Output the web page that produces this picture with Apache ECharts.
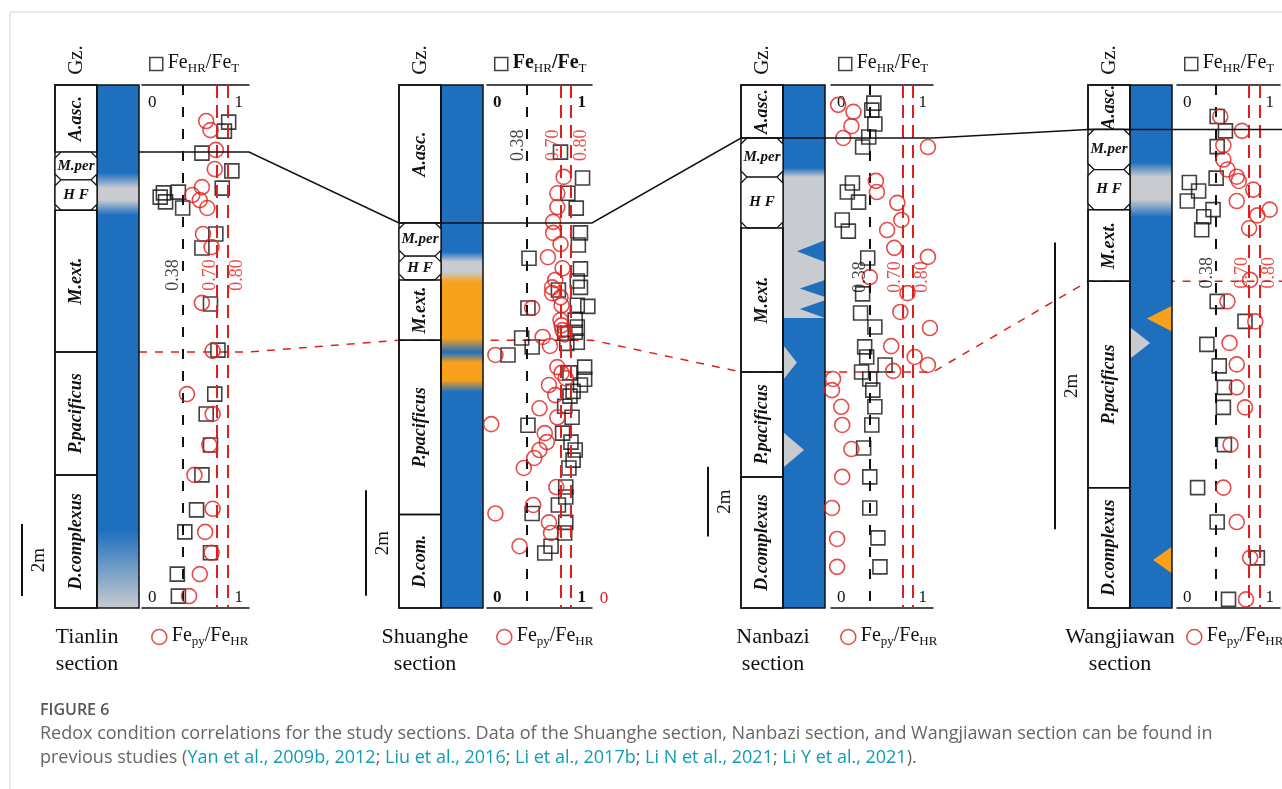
<!DOCTYPE html>
<html>
<head>
<meta charset="utf-8">
<title>Figure 6</title>
<script src="https://cdn.jsdelivr.net/npm/echarts@6.0.0/dist/echarts.min.js"></script>
<style>
  html, body { margin: 0; padding: 0; background: #fff; }
  #main { width: 1282px; height: 789px; }
</style>
</head>
<body>
<div id="main"></div>
<script>
// ---- data (depth in m below top of each column, x = ratio) ----
const sectionNames = ['Tianlin', 'Shuanghe', 'Nanbazi', 'Wangjiawan'];
const sectionHeights = [14.5, 9.9, 15.0, 3.65];
const scaleBarTops = [12.17, 7.67, 10.95, 1.10];   // 2 m scale bar
const thresholdValues = [0.38, 0.70, 0.80];
const thresholdLabelDepths = [5.27, 1.14, 5.51, 1.31];

const tianlinZones = [['A.asc.', 0, 1.86], ['M.per', 1.86, 2.63], ['H F', 2.63, 3.47], ['M.ext.', 3.47, 7.40], ['P.pacificus', 7.40, 10.81], ['D.complexus', 10.81, 14.5]];
const shuangheZones = [['A.asc.', 0, 2.61], ['M.per', 2.61, 3.24], ['H F', 3.24, 3.69], ['M.ext.', 3.69, 4.83], ['P.pacificus', 4.83, 8.13], ['D.com.', 8.13, 9.9]];
const nanbaziZones = [['A.asc.', 0, 1.52], ['M.per', 1.52, 2.64], ['H F', 2.64, 4.10], ['M.ext.', 4.10, 8.23], ['P.pacificus', 8.23, 11.24], ['D.complexus', 11.24, 15.0]];
const wangjiawanZones = [['A.asc.', 0, 0.31], ['M.per', 0.31, 0.59], ['H F', 0.59, 0.87], ['M.ext.', 0.87, 1.37], ['P.pacificus', 1.37, 2.81], ['D.complexus', 2.81, 3.65]];

// redox column: [depth, facies]  E = euxinic, O = oxic, F = ferruginous
const tianlinRedox = [[0, 'E'], [2.44, 'E'], [2.86, 'O'], [3.19, 'O'], [3.60, 'E'], [12.34, 'E'], [14.5, 'O']];
const shuangheRedox = [[0, 'E'], [3.16, 'E'], [3.35, 'O'], [3.54, 'O'], [3.73, 'F'], [4.79, 'F'], [5.06, 'E'], [5.25, 'F'], [5.59, 'F'], [5.81, 'E'], [9.9, 'E']];
const nanbaziRedox = [[0, 'E'], [2.38, 'E'], [2.64, 'O'], [6.68, 'O'], [6.68, 'E'], [15.0, 'E']];
const wangjiawanRedox = [[0, 'E'], [0.54, 'E'], [0.64, 'O'], [0.80, 'O'], [0.92, 'E'], [3.65, 'E']];

// lenses: [top, bottom, reach, side, facies]
const tianlinLenses = [];
const shuangheLenses = [];
const nanbaziLenses = [[4.45, 5.08, 0.67, 'R', 'E'], [5.59, 6.08, 0.6, 'R', 'E'], [6.17, 6.68, 0.6, 'R', 'E'], [7.46, 8.46, 0.33, 'L', 'O'], [9.95, 10.98, 0.5, 'L', 'O']];
const wangjiawanLenses = [[1.54, 1.72, 0.6, 'R', 'F'], [1.69, 1.91, 0.48, 'L', 'O'], [3.22, 3.41, 0.45, 'R', 'F']];

// FeHR/FeT (squares) and Fepy/FeHR (circles): [ratio, depth]
const tianlinFeHR = [[0.81, 1.03], [0.77, 1.28], [0.56, 1.89], [0.84, 2.38], [0.75, 2.86], [0.20, 2.99], [0.34, 2.97], [0.17, 3.11], [0.22, 3.24], [0.38, 3.41], [0.69, 4.13], [0.56, 4.52], [0.64, 6.07], [0.71, 7.35], [0.68, 8.57], [0.60, 9.12], [0.64, 9.98], [0.56, 10.81], [0.51, 11.78], [0.40, 12.39], [0.64, 12.97], [0.33, 13.56], [0.34, 14.17]];
const tianlinFePy = [[0.60, 1.00], [0.64, 1.25], [0.69, 1.80], [0.68, 2.33], [0.56, 2.83], [0.47, 3.05], [0.54, 3.19], [0.61, 3.41], [0.57, 4.13], [0.65, 4.49], [0.56, 6.04], [0.66, 7.37], [0.42, 8.57], [0.66, 9.12], [0.63, 9.98], [0.49, 10.81], [0.66, 11.75], [0.59, 12.39], [0.65, 12.97], [0.54, 13.56], [0.44, 14.17]];

const shuangheFeHR = [[0.70, 1.27], [0.91, 1.76], [0.77, 2.05], [0.85, 2.33], [0.89, 2.80], [0.87, 3.03], [0.40, 3.28], [0.89, 3.48], [0.86, 3.71], [0.89, 3.83], [0.68, 3.88], [0.86, 4.17], [0.96, 4.19], [0.39, 4.22], [0.84, 4.45], [0.86, 4.58], [0.84, 4.68], [0.74, 4.70], [0.33, 4.79], [0.86, 4.87], [0.76, 4.89], [0.43, 4.96], [0.20, 5.11], [0.93, 5.34], [0.79, 5.45], [0.93, 5.57], [0.89, 5.68], [0.82, 5.80], [0.79, 5.89], [0.74, 6.08], [0.81, 6.29], [0.39, 6.44], [0.72, 6.59], [0.80, 6.76], [0.84, 6.91], [0.82, 7.10], [0.78, 7.25], [0.75, 7.61], [0.75, 7.80], [0.68, 7.95], [0.43, 8.11], [0.75, 8.28], [0.74, 8.48], [0.61, 8.73], [0.55, 8.86]];
const shuangheFePy = [[0.73, 1.74], [0.67, 2.05], [0.67, 2.31], [0.63, 2.59], [0.63, 2.80], [0.70, 3.01], [0.58, 3.26], [0.72, 3.47], [0.65, 3.69], [0.62, 3.83], [0.62, 3.94], [0.70, 4.02], [0.71, 4.17], [0.43, 4.22], [0.70, 4.45], [0.71, 4.55], [0.72, 4.64], [0.74, 4.72], [0.53, 4.77], [0.60, 4.94], [0.08, 5.11], [0.67, 5.34], [0.71, 5.45], [0.75, 5.55], [0.59, 5.68], [0.65, 5.87], [0.50, 6.12], [0.67, 6.29], [0.04, 6.42], [0.55, 6.59], [0.57, 6.76], [0.50, 6.91], [0.45, 7.06], [0.35, 7.25], [0.66, 7.61], [0.44, 7.95], [0.08, 8.11], [0.59, 8.28], [0.61, 8.48], [0.31, 8.73]];

const nanbaziFeHR = [[0.42, 0.52], [0.40, 0.72], [0.43, 1.12], [0.37, 1.49], [0.31, 1.78], [0.21, 2.81], [0.16, 3.07], [0.27, 3.36], [0.11, 3.87], [0.17, 4.19], [0.36, 4.96], [0.31, 5.99], [0.29, 6.54], [0.43, 6.94], [0.33, 7.51], [0.35, 7.80], [0.53, 8.03], [0.30, 8.23], [0.38, 8.43], [0.41, 8.75], [0.43, 9.23], [0.40, 9.75], [0.32, 10.41], [0.38, 11.24], [0.38, 12.13], [0.46, 12.99], [0.48, 13.82]];
const nanbaziFePy = [[0.07, 0.57], [0.22, 0.77], [0.20, 1.18], [0.12, 1.52], [0.95, 1.78], [0.44, 2.75], [0.45, 3.07], [0.65, 3.38], [0.69, 3.87], [0.55, 4.16], [0.62, 4.67], [0.95, 4.93], [0.38, 5.51], [0.75, 5.97], [0.68, 6.51], [0.97, 6.97], [0.59, 7.49], [0.82, 7.80], [0.95, 8.03], [0.61, 8.20], [0.02, 8.43], [0.01, 8.75], [0.10, 9.23], [0.11, 9.75], [0.20, 10.44], [0.11, 11.24], [0.01, 12.13], [0.06, 13.02], [0.06, 13.82]];

const wangjiawanFeHR = [[0.39, 0.22], [0.47, 0.32], [0.39, 0.43], [0.38, 0.65], [0.12, 0.68], [0.21, 0.74], [0.10, 0.81], [0.35, 0.87], [0.26, 0.92], [0.24, 1.01], [0.39, 1.51], [0.66, 1.65], [0.29, 1.81], [0.41, 1.96], [0.46, 2.11], [0.45, 2.25], [0.46, 2.51], [0.20, 2.81], [0.39, 3.05], [0.78, 3.30], [0.50, 3.59]];
const wangjiawanFePy = [[0.42, 0.22], [0.63, 0.32], [0.45, 0.42], [0.45, 0.52], [0.49, 0.59], [0.58, 0.64], [0.60, 0.67], [0.74, 0.73], [0.58, 0.81], [0.90, 0.87], [0.78, 0.91], [0.70, 1.00], [0.71, 1.36], [0.49, 1.51], [0.76, 1.65], [0.51, 1.80], [0.58, 1.95], [0.58, 2.11], [0.66, 2.25], [0.52, 2.51], [0.45, 2.81], [0.58, 3.05], [0.71, 3.30], [0.67, 3.59]];

// ---- layout / style ----
const FONT = '"Liberation Serif", "Times New Roman", serif';
const SANS = '"Open Sans", "Noto Sans", sans-serif';
const RED = '#e0201c';
const INK = '#111';
const faciesColors = { E: '#1f6fbf', O: '#c8cbcf', F: '#f8a11c' };
const SHORT_ZONES = ['M.per', 'H F'];

const zoneLeft = [55, 399, 741, 1088];
const plotLeft = [142, 487, 831, 1177];
const plotWidth = [107, 105, 102, 103];
const nameCenter = [87, 425, 773, 1120];
const COL_W = 42, TOP = 85, HEIGHT = 523;

const sections = sectionNames.map((name, i) => ({
  name,
  H: sectionHeights[i],
  zones: [tianlinZones, shuangheZones, nanbaziZones, wangjiawanZones][i],
  redox: [tianlinRedox, shuangheRedox, nanbaziRedox, wangjiawanRedox][i],
  lenses: [tianlinLenses, shuangheLenses, nanbaziLenses, wangjiawanLenses][i],
  feHR: [tianlinFeHR, shuangheFeHR, nanbaziFeHR, wangjiawanFeHR][i],
  fePy: [tianlinFePy, shuangheFePy, nanbaziFePy, wangjiawanFePy][i]
}));

const chart = echarts.init(document.getElementById('main'));

function renderColumn(sec) {
  return function (params, api) {
    const pTop = api.coord([0, 0]);
    const pBot = api.coord([2, sec.H]);
    const xz = pTop[0], xc = api.coord([1, 0])[0], xr = pBot[0];
    const yt = pTop[1], h = pBot[1] - pTop[1], w = xr - xc;
    const stops = sec.redox.map(s => ({ offset: s[0] / sec.H, color: faciesColors[s[1]] }));
    const children = [
      { type: 'rect', shape: { x: xz, y: yt, width: xc - xz, height: h }, style: { fill: 'none', stroke: INK, lineWidth: 1.5 } },
      { type: 'rect', shape: { x: xc, y: yt, width: w, height: h }, style: { fill: new echarts.graphic.LinearGradient(0, 0, 0, 1, stops) } }
    ];
    sec.lenses.forEach(l => {
      const ya = api.coord([1, l[0]])[1], yb = api.coord([1, l[1]])[1];
      const base = l[3] === 'R' ? xr : xc;
      const tip = l[3] === 'R' ? xr - l[2] * w : xc + l[2] * w;
      children.push({ type: 'polygon', shape: { points: [[base, ya], [tip, (ya + yb) / 2], [base, yb]] }, style: { fill: faciesColors[l[4]] } });
    });
    children.push({ type: 'rect', shape: { x: xc, y: yt, width: w, height: h }, style: { fill: 'none', stroke: INK, lineWidth: 1.5 } });
    return { type: 'group', children };
  };
}

function renderZone(zones) {
  return function (params, api) {
    const z = zones[params.dataIndex];
    const p0 = api.coord([0, z[1]]), p1 = api.coord([1, z[2]]);
    const x0 = p0[0], y0 = p0[1], x1 = p1[0], y1 = p1[1];
    const short = SHORT_ZONES.indexOf(z[0]) >= 0;
    let shape;
    if (short) {
      const c = 6;
      shape = {
        type: 'polygon',
        shape: { points: [[x0 + c, y0], [x1 - c, y0], [x1, y0 + c], [x1, y1 - c], [x1 - c, y1], [x0 + c, y1], [x0, y1 - c], [x0, y0 + c]] },
        style: { fill: '#fff', stroke: INK, lineWidth: 1.3 }
      };
    } else {
      shape = { type: 'rect', shape: { x: x0, y: y0, width: x1 - x0, height: y1 - y0 }, style: { fill: 'none', stroke: INK, lineWidth: 1.5 } };
    }
    const label = {
      type: 'text', x: (x0 + x1) / 2, y: (y0 + y1) / 2, rotation: short ? 0 : Math.PI / 2,
      style: { text: z[0], align: 'center', verticalAlign: 'middle', fontStyle: 'italic', fontWeight: 'bold', fontSize: short ? 15 : 18, fontFamily: FONT, fill: INK }
    };
    return { type: 'group', children: [shape, label] };
  };
}

function renderScaleBar(params, api) {
  const a = api.coord([0, api.value(1)]), b = api.coord([0, api.value(2)]);
  const x = a[0] - 33;
  return {
    type: 'group', children: [
      { type: 'line', shape: { x1: x, y1: a[1], x2: x, y2: b[1] }, style: { stroke: INK, lineWidth: 2 } },
      { type: 'text', x: x + 17, y: (a[1] + b[1]) / 2, rotation: Math.PI / 2,
        style: { text: '2m', align: 'center', verticalAlign: 'middle', fontSize: 19, fontFamily: FONT, fill: INK } }
    ]
  };
}

const grid = [], xAxis = [], yAxis = [], series = [], legend = [];

sections.forEach((sec, i) => {
  grid.push({ left: zoneLeft[i], top: TOP, width: 2 * COL_W, height: HEIGHT });
  grid.push({ left: plotLeft[i], top: TOP, width: plotWidth[i], height: HEIGHT });

  xAxis.push({ gridIndex: 2 * i, type: 'value', min: 0, max: 2, show: false });
  ['bottom', 'top'].forEach(pos => {
    xAxis.push({
      gridIndex: 2 * i + 1, type: 'value', position: pos, min: 0, max: 1, interval: 1,
      axisLine: { show: true, onZero: false, lineStyle: { color: INK, width: 1.5 } },
      axisTick: { show: false }, splitLine: { show: false },
      axisLabel: {
        inside: true, margin: pos === 'top' ? 9 : 2, color: INK, fontSize: 17, fontFamily: FONT,
        fontWeight: i === 1 ? 'bold' : 'normal',
        alignMinLabel: 'left', alignMaxLabel: 'right', padding: [0, 6, 0, 6]
      }
    });
  });
  yAxis.push({ gridIndex: 2 * i, type: 'value', min: 0, max: sec.H, inverse: true, show: false });
  yAxis.push({ gridIndex: 2 * i + 1, type: 'value', min: 0, max: sec.H, inverse: true, show: false });

  series.push({
    type: 'custom', xAxisIndex: 3 * i, yAxisIndex: 2 * i, silent: true, z: 2,
    data: [[0, 0]], encode: { x: 0, y: 1 }, renderItem: renderColumn(sec)
  });
  series.push({
    type: 'custom', xAxisIndex: 3 * i, yAxisIndex: 2 * i, silent: true, z: 3,
    data: sec.zones.map(z => [0, z[1], z[2]]), encode: { x: 0, y: [1, 2] }, renderItem: renderZone(sec.zones)
  });
  series.push({
    type: 'custom', xAxisIndex: 3 * i, yAxisIndex: 2 * i, silent: true, clip: false,
    data: [[0, scaleBarTops[i], scaleBarTops[i] + 2]], encode: { x: 0, y: [1, 2] }, renderItem: renderScaleBar
  });

  series.push({
    type: 'scatter', name: 'FeHR/FeT', xAxisIndex: 3 * i + 1, yAxisIndex: 2 * i + 1, z: 4,
    data: sec.feHR, symbol: 'rect', symbolSize: 14,
    itemStyle: { color: 'rgba(0,0,0,0)', borderColor: INK, borderWidth: 1.6 },
    markLine: {
      silent: true, symbol: ['none', 'none'], label: { show: false },
      data: [
        { xAxis: thresholdValues[0], lineStyle: { color: INK, width: 2, type: [10, 12] } },
        { xAxis: thresholdValues[1], lineStyle: { color: RED, width: 2, type: [13, 7] } },
        { xAxis: thresholdValues[2], lineStyle: { color: RED, width: 2, type: [13, 7] } }
      ]
    }
  });
  series.push({
    type: 'scatter', name: 'Fepy/FeHR', xAxisIndex: 3 * i + 1, yAxisIndex: 2 * i + 1, z: 5,
    data: sec.fePy, symbol: 'circle', symbolSize: 15,
    itemStyle: { color: 'rgba(0,0,0,0)', borderColor: RED, borderWidth: 1.6 }
  });
  // rotated labels beside the threshold lines (offset is in the rotated frame)
  series.push({
    type: 'scatter', xAxisIndex: 3 * i + 1, yAxisIndex: 2 * i + 1, z: 6, silent: true,
    symbolSize: 1, itemStyle: { color: 'rgba(0,0,0,0)' },
    data: thresholdValues.map((v, k) => ({
      value: [v, thresholdLabelDepths[i]],
      label: { color: k === 0 ? INK : RED, offset: [0, k === 0 ? -9 : (k === 1 ? -7 : 10)] }
    })),
    label: {
      show: true, position: 'inside', rotate: 90, fontSize: 18, fontFamily: FONT,
      formatter: p => p.value[0].toFixed(2)
    }
  });

  const weight = i === 1 ? 'bold' : 'normal';
  const rich = {
    n: { fontSize: 20, fontFamily: FONT, fontWeight: weight, color: INK, verticalAlign: 'top' },
    s: { fontSize: 13, fontFamily: FONT, color: INK, verticalAlign: 'top', padding: [9, 0, 0, 0] }
  };
  const richPlain = {
    n: { fontSize: 20, fontFamily: FONT, color: INK, verticalAlign: 'top' },
    s: { fontSize: 13, fontFamily: FONT, color: INK, verticalAlign: 'top', padding: [9, 0, 0, 0] }
  };
  legend.push({
    left: plotLeft[i] + 2, top: 48, padding: 5, selectedMode: false,
    data: [{ name: 'FeHR/FeT', icon: 'rect' }], itemWidth: 13, itemHeight: 13,
    itemStyle: { color: 'rgba(0,0,0,0)', borderColor: INK, borderWidth: 1.5 },
    formatter: () => '{n|Fe}{s|HR}{n|/Fe}{s|T}',
    textStyle: { rich }
  });
  legend.push({
    left: plotLeft[i] + 4, top: 621, padding: 5, selectedMode: false,
    data: [{ name: 'Fepy/FeHR', icon: 'circle' }], itemWidth: 15, itemHeight: 15,
    itemStyle: { color: 'rgba(0,0,0,0)', borderColor: RED, borderWidth: 1.6 },
    formatter: () => '{n|Fe}{s|py}{n|/Fe}{s|HR}',
    textStyle: { rich: richPlain }
  });
});

// ---- static text and frame ----
const staticGraphics = [
  { type: 'line', shape: { x1: 10, y1: 12, x2: 1282, y2: 12 }, style: { stroke: '#d4d4d4', lineWidth: 1 } },
  { type: 'line', shape: { x1: 10, y1: 12, x2: 10, y2: 789 }, style: { stroke: '#d4d4d4', lineWidth: 1 } },
  { type: 'text', x: 604, y: 599, style: { text: '0', fill: RED, fontSize: 17, fontFamily: FONT, align: 'center', verticalAlign: 'middle' } },
  { type: 'text', x: 40, y: 710, style: { text: 'FIGURE 6', fill: '#555', fontSize: 16, fontWeight: 600, fontFamily: SANS, verticalAlign: 'middle' } },
  { type: 'text', x: 40, y: 734, style: { text: 'Redox condition correlations for the study sections. Data of the Shuanghe section, Nanbazi section, and Wangjiawan section can be found in', fill: '#666', fontSize: 18, fontFamily: SANS, verticalAlign: 'middle' } },
  {
    type: 'text', x: 40, y: 758, style: {
      text: '{g|previous studies (}{l|Yan et al., 2009b, 2012}{g|; }{l|Liu et al., 2016}{g|; }{l|Li et al., 2017b}{g|; }{l|Li N et al., 2021}{g|; }{l|Li Y et al., 2021}{g|).}',
      fontSize: 18, fontFamily: SANS, verticalAlign: 'middle',
      rich: { g: { fill: '#666', fontSize: 18, fontFamily: SANS }, l: { fill: '#0f9db3', fontSize: 18, fontFamily: SANS } }
    }
  }
];
sections.forEach((sec, i) => {
  staticGraphics.push({
    type: 'text', x: zoneLeft[i] + COL_W / 2, y: 60, rotation: Math.PI / 2,
    style: { text: 'Gz.', align: 'center', verticalAlign: 'middle', fontSize: 21, fontFamily: FONT, fill: INK }
  });
  staticGraphics.push({
    type: 'text', x: nameCenter[i], y: 624,
    style: { text: sec.name + '\nsection', align: 'center', verticalAlign: 'top', fontSize: 22, lineHeight: 27, fontFamily: FONT, fill: INK }
  });
});

chart.setOption({
  animation: false,
  backgroundColor: '#fff',
  grid, xAxis, yAxis, series, legend,
  graphic: staticGraphics
});

// ---- correlation lines between sections ----
function boundaryPoints(zoneIndex) {
  const pts = [];
  sections.forEach((sec, i) => {
    const y = chart.convertToPixel({ yAxisIndex: 2 * i }, sec.zones[zoneIndex][2]);
    const xStart = i === 0 ? zoneLeft[i] + 2 * COL_W : zoneLeft[i];
    const xEnd = i === sections.length - 1 ? 1282 : plotLeft[i] + plotWidth[i];
    pts.push([xStart, y], [xEnd, y]);
  });
  return pts;
}

chart.setOption({
  graphic: staticGraphics.concat([
    { type: 'polyline', z: 0, shape: { points: boundaryPoints(3) }, style: { stroke: RED, lineWidth: 1.5, lineDash: [8, 8], fill: null } },
    { type: 'polyline', z: 100, shape: { points: boundaryPoints(0) }, style: { stroke: INK, lineWidth: 1.5, fill: null } }
  ])
}, { replaceMerge: ['graphic'] });
</script>
</body>
</html>
